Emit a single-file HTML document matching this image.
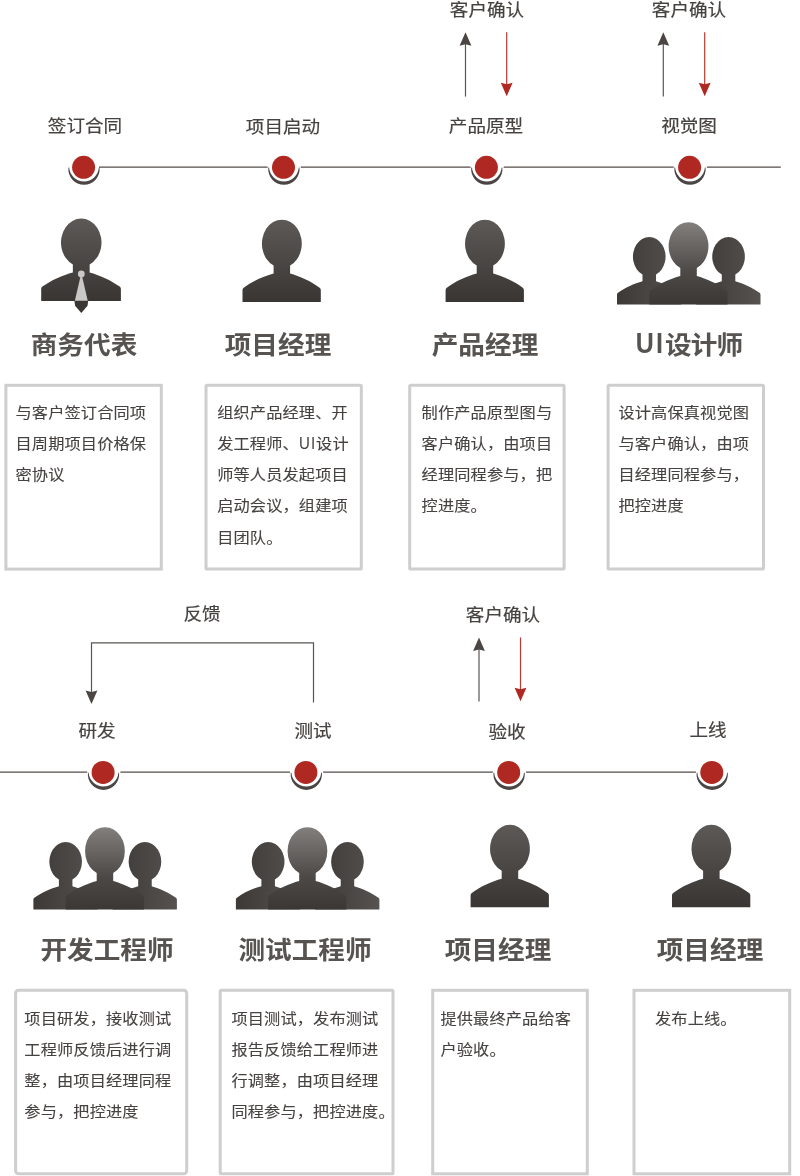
<!DOCTYPE html>
<html lang="zh-CN">
<head>
<meta charset="utf-8">
<title>项目流程</title>
<style>

html,body{margin:0;padding:0;background:#fff;}
body{width:800px;height:1176px;overflow:hidden;position:relative;font-family:"Liberation Sans", "Noto Sans CJK SC", sans-serif;color:#464240;}
#stage{position:absolute;left:0;top:0;width:800px;height:1176px;overflow:hidden;background:#fff;will-change:transform;}
.lbl,.ttl,.txt{position:absolute;white-space:nowrap;margin:0;padding:0;}
.ttl .u{display:inline-block;line-height:1;transform-origin:0 86%;transform:scale(0.94,1.19);letter-spacing:2.4px;margin-right:-2.2px;}
.txt .u{display:inline-block;line-height:1;transform-origin:0 86%;transform:scale(0.93,1.16);letter-spacing:1.3px;margin-left:0.6px;margin-right:-2.2px;-webkit-text-stroke:0;}
.txt{-webkit-text-stroke:0.12px #464240;}
.lbl{-webkit-text-stroke:0.2px #464240;}
.lbl{font-size:18.3px;line-height:24px;height:24px;transform:translate(-50%,-50%) scale(1.016,0.95);color:#464240;}
.ttl{font-size:26.3px;line-height:34px;height:34px;font-weight:bold;transform:translate(-50%,-50%) scale(1.0125,0.95);color:#565351;}
.txt{font-size:16.2px;letter-spacing:0.15px;line-height:33.880px;transform-origin:0 0;transform:scale(1.0,0.915);color:#464240;}

</style>
</head>
<body>
<div id="stage">
<svg width="800" height="1176" viewBox="0 0 800 1176" style="position:absolute;left:0;top:0">
<defs>
<linearGradient id="gSingle" x1="0" y1="0" x2="0" y2="1"><stop offset="0" stop-color="#5c5957"/><stop offset="1" stop-color="#393533"/></linearGradient>
<linearGradient id="gCenter" x1="0" y1="0" x2="0" y2="1"><stop offset="0" stop-color="#827f7d"/><stop offset="0.6" stop-color="#4d4947"/><stop offset="1" stop-color="#3b3735"/></linearGradient>
<linearGradient id="gSideL" x1="0" y1="0" x2="1" y2="0"><stop offset="0" stop-color="#3d3937"/><stop offset="1" stop-color="#56524f"/></linearGradient>
<linearGradient id="gSideR" x1="0" y1="0" x2="1" y2="0"><stop offset="0" stop-color="#3d3937"/><stop offset="1" stop-color="#56524f"/></linearGradient>
</defs>
<path d="M 99.0,167.10000000000002 L 267.6,167.10000000000002 M 300.8,167.10000000000002 L 470.5,167.10000000000002 M 503.7,167.10000000000002 L 673.7,167.10000000000002 M 706.9,167.10000000000002 L 780.8,167.10000000000002" stroke="#524d4b" stroke-width="1.25" fill="none"/>
<path d="M 0.0,772.1 L 87.2,772.1 M 120.4,772.1 L 290.0,772.1 M 323.2,772.1 L 492.8,772.1 M 526.0,772.1 L 695.9,772.1" stroke="#524d4b" stroke-width="1.25" fill="none"/>
<g transform="translate(83.6,167.3)"><path d="M -15.58,0.3 A 15.66,15.66 0 1 0 15.58,0.3 L 14.86,0.3 A 14.9,14.9 0 0 1 -14.86,0.3 Z" transform="translate(0.4,0)" fill="#4b4644"/><circle cx="0" cy="0" r="11.5" fill="#b02822"/></g>
<g transform="translate(283.5,167.3)"><path d="M -15.58,0.3 A 15.66,15.66 0 1 0 15.58,0.3 L 14.86,0.3 A 14.9,14.9 0 0 1 -14.86,0.3 Z" transform="translate(0.4,0)" fill="#4b4644"/><circle cx="0" cy="0" r="11.5" fill="#b02822"/></g>
<g transform="translate(486.4,167.3)"><path d="M -15.58,0.3 A 15.66,15.66 0 1 0 15.58,0.3 L 14.86,0.3 A 14.9,14.9 0 0 1 -14.86,0.3 Z" transform="translate(0.4,0)" fill="#4b4644"/><circle cx="0" cy="0" r="11.5" fill="#b02822"/></g>
<g transform="translate(689.6,167.3)"><path d="M -15.58,0.3 A 15.66,15.66 0 1 0 15.58,0.3 L 14.86,0.3 A 14.9,14.9 0 0 1 -14.86,0.3 Z" transform="translate(0.4,0)" fill="#4b4644"/><circle cx="0" cy="0" r="11.5" fill="#b02822"/></g>
<g transform="translate(103.1,772.4)"><path d="M -15.58,0.3 A 15.66,15.66 0 1 0 15.58,0.3 L 14.86,0.3 A 14.9,14.9 0 0 1 -14.86,0.3 Z" transform="translate(0.4,0)" fill="#4b4644"/><circle cx="0" cy="0" r="11.5" fill="#b02822"/></g>
<g transform="translate(305.9,772.4)"><path d="M -15.58,0.3 A 15.66,15.66 0 1 0 15.58,0.3 L 14.86,0.3 A 14.9,14.9 0 0 1 -14.86,0.3 Z" transform="translate(0.4,0)" fill="#4b4644"/><circle cx="0" cy="0" r="11.5" fill="#b02822"/></g>
<g transform="translate(508.7,772.4)"><path d="M -15.58,0.3 A 15.66,15.66 0 1 0 15.58,0.3 L 14.86,0.3 A 14.9,14.9 0 0 1 -14.86,0.3 Z" transform="translate(0.4,0)" fill="#4b4644"/><circle cx="0" cy="0" r="11.5" fill="#b02822"/></g>
<g transform="translate(711.8,772.4)"><path d="M -15.58,0.3 A 15.66,15.66 0 1 0 15.58,0.3 L 14.86,0.3 A 14.9,14.9 0 0 1 -14.86,0.3 Z" transform="translate(0.4,0)" fill="#4b4644"/><circle cx="0" cy="0" r="11.5" fill="#b02822"/></g>
<path d="M 465.5,40.3 L 465.5,96.6" stroke="#595553" stroke-width="1.2" fill="none"/><path d="M 465.5,32.3 L 471.4,45.8 L 465.5,44.3 L 459.6,45.8 Z" fill="#4b4644"/>
<path d="M 506.7,32.3 L 506.7,88.3" stroke="#bb3a34" stroke-width="1.2" fill="none"/><path d="M 506.7,96.3 L 512.6,82.8 L 506.7,84.3 L 500.8,82.8 Z" fill="#b02822"/>
<path d="M 663.3,40.3 L 663.3,96.6" stroke="#595553" stroke-width="1.2" fill="none"/><path d="M 663.3,32.3 L 669.1999999999999,45.8 L 663.3,44.3 L 657.4,45.8 Z" fill="#4b4644"/>
<path d="M 704.7,32.3 L 704.7,88.3" stroke="#bb3a34" stroke-width="1.2" fill="none"/><path d="M 704.7,96.3 L 710.6,82.8 L 704.7,84.3 L 698.8000000000001,82.8 Z" fill="#b02822"/>
<path d="M 479,645.5 L 479,701.5" stroke="#595553" stroke-width="1.2" fill="none"/><path d="M 479,637.5 L 484.9,651.0 L 479,649.5 L 473.1,651.0 Z" fill="#4b4644"/>
<path d="M 520.5,637.5 L 520.5,693.3" stroke="#bb3a34" stroke-width="1.2" fill="none"/><path d="M 520.5,701.3 L 526.4,687.8 L 520.5,689.3 L 514.6,687.8 Z" fill="#b02822"/>
<path d="M 313.5,702.5 L 313.5,642.8 L 91.5,642.8 L 91.5,696" stroke="#595553" stroke-width="1.2" fill="none"/>
<path d="M 91.5,704 L 97.4,690.5 L 91.5,692.0 L 85.6,690.5 Z" fill="#4b4644"/>
<g transform="translate(81.3,218.4) scale(1.018,1)" fill="url(#gSingle)"><path d="M -8.3,46 L -8.3,54 C -18,56.5 -30,61.9 -38.2,68.2 Q -39.4,69.1 -39.4,70.5 L -39.4,82.5 L 38.9,82.5 L 38.9,70.5 Q 38.9,69.1 37.7,68.2 C 29.5,61.9 17.5,56.5 8.2,54 L 8.2,46 A 19.9,24 0 1 0 -8.3,46 Z"/></g><g transform="translate(81.3,218.4)"><path d="M -0.7,57.5 L 0.7,57.5 L 6.5,82.6 L -6.5,82.6 Z" fill="#c9c8c7"/><circle cx="0" cy="55.5" r="3.4" fill="#c9c8c7"/><path d="M -6.9,82.4 L 6.9,82.4 L 6.2,87.3 L 0,94.6 L -6.2,87.3 Z" fill="#3b3735"/></g>
<g transform="translate(281.9,219.5) scale(1.0)" fill="url(#gSingle)"><path d="M -8.3,46 L -8.3,54 C -18,56.5 -30,61.9 -38.2,68.2 Q -39.4,69.1 -39.4,70.5 L -39.4,82.5 L 38.9,82.5 L 38.9,70.5 Q 38.9,69.1 37.7,68.2 C 29.5,61.9 17.5,56.5 8.2,54 L 8.2,46 A 19.9,24 0 1 0 -8.3,46 Z"/></g>
<g transform="translate(485.0,219.5) scale(1.0)" fill="url(#gSingle)"><path d="M -8.3,46 L -8.3,54 C -18,56.5 -30,61.9 -38.2,68.2 Q -39.4,69.1 -39.4,70.5 L -39.4,82.5 L 38.9,82.5 L 38.9,70.5 Q 38.9,69.1 37.7,68.2 C 29.5,61.9 17.5,56.5 8.2,54 L 8.2,46 A 19.9,24 0 1 0 -8.3,46 Z"/></g>
<g transform="translate(649.3000000000001,236.85000000000002) scale(0.82)" fill="url(#gSideL)"><path d="M -8.3,46 L -8.3,54 C -18,56.5 -30,61.9 -38.2,68.2 Q -39.4,69.1 -39.4,70.5 L -39.4,82.5 L 38.9,82.5 L 38.9,70.5 Q 38.9,69.1 37.7,68.2 C 29.5,61.9 17.5,56.5 8.2,54 L 8.2,46 A 19.9,24 0 1 0 -8.3,46 Z"/></g><g transform="translate(728.6,236.85000000000002) scale(0.82)" fill="url(#gSideR)"><path d="M -8.3,46 L -8.3,54 C -18,56.5 -30,61.9 -38.2,68.2 Q -39.4,69.1 -39.4,70.5 L -39.4,82.5 L 38.9,82.5 L 38.9,70.5 Q 38.9,69.1 37.7,68.2 C 29.5,61.9 17.5,56.5 8.2,54 L 8.2,46 A 19.9,24 0 1 0 -8.3,46 Z"/></g><g transform="translate(688.6,222) scale(1.0)" fill="url(#gCenter)"><path d="M -8.3,46 L -8.3,54 C -18,56.5 -30,61.9 -38.2,68.2 Q -39.4,69.1 -39.4,70.5 L -39.4,82.5 L 38.9,82.5 L 38.9,70.5 Q 38.9,69.1 37.7,68.2 C 29.5,61.9 17.5,56.5 8.2,54 L 8.2,46 A 19.9,24 0 1 0 -8.3,46 Z"/></g>
<g transform="translate(65.7,841.85) scale(0.82)" fill="url(#gSideL)"><path d="M -8.3,46 L -8.3,54 C -18,56.5 -30,61.9 -38.2,68.2 Q -39.4,69.1 -39.4,70.5 L -39.4,82.5 L 38.9,82.5 L 38.9,70.5 Q 38.9,69.1 37.7,68.2 C 29.5,61.9 17.5,56.5 8.2,54 L 8.2,46 A 19.9,24 0 1 0 -8.3,46 Z"/></g><g transform="translate(145.0,841.85) scale(0.82)" fill="url(#gSideR)"><path d="M -8.3,46 L -8.3,54 C -18,56.5 -30,61.9 -38.2,68.2 Q -39.4,69.1 -39.4,70.5 L -39.4,82.5 L 38.9,82.5 L 38.9,70.5 Q 38.9,69.1 37.7,68.2 C 29.5,61.9 17.5,56.5 8.2,54 L 8.2,46 A 19.9,24 0 1 0 -8.3,46 Z"/></g><g transform="translate(105,827) scale(1.0)" fill="url(#gCenter)"><path d="M -8.3,46 L -8.3,54 C -18,56.5 -30,61.9 -38.2,68.2 Q -39.4,69.1 -39.4,70.5 L -39.4,82.5 L 38.9,82.5 L 38.9,70.5 Q 38.9,69.1 37.7,68.2 C 29.5,61.9 17.5,56.5 8.2,54 L 8.2,46 A 19.9,24 0 1 0 -8.3,46 Z"/></g>
<g transform="translate(268.2,841.85) scale(0.82)" fill="url(#gSideL)"><path d="M -8.3,46 L -8.3,54 C -18,56.5 -30,61.9 -38.2,68.2 Q -39.4,69.1 -39.4,70.5 L -39.4,82.5 L 38.9,82.5 L 38.9,70.5 Q 38.9,69.1 37.7,68.2 C 29.5,61.9 17.5,56.5 8.2,54 L 8.2,46 A 19.9,24 0 1 0 -8.3,46 Z"/></g><g transform="translate(347.5,841.85) scale(0.82)" fill="url(#gSideR)"><path d="M -8.3,46 L -8.3,54 C -18,56.5 -30,61.9 -38.2,68.2 Q -39.4,69.1 -39.4,70.5 L -39.4,82.5 L 38.9,82.5 L 38.9,70.5 Q 38.9,69.1 37.7,68.2 C 29.5,61.9 17.5,56.5 8.2,54 L 8.2,46 A 19.9,24 0 1 0 -8.3,46 Z"/></g><g transform="translate(307.5,827) scale(1.0)" fill="url(#gCenter)"><path d="M -8.3,46 L -8.3,54 C -18,56.5 -30,61.9 -38.2,68.2 Q -39.4,69.1 -39.4,70.5 L -39.4,82.5 L 38.9,82.5 L 38.9,70.5 Q 38.9,69.1 37.7,68.2 C 29.5,61.9 17.5,56.5 8.2,54 L 8.2,46 A 19.9,24 0 1 0 -8.3,46 Z"/></g>
<g transform="translate(510,824.7) scale(1.0)" fill="url(#gSingle)"><path d="M -8.3,46 L -8.3,54 C -18,56.5 -30,61.9 -38.2,68.2 Q -39.4,69.1 -39.4,70.5 L -39.4,82.5 L 38.9,82.5 L 38.9,70.5 Q 38.9,69.1 37.7,68.2 C 29.5,61.9 17.5,56.5 8.2,54 L 8.2,46 A 19.9,24 0 1 0 -8.3,46 Z"/></g>
<g transform="translate(711.4,824.7) scale(1.0)" fill="url(#gSingle)"><path d="M -8.3,46 L -8.3,54 C -18,56.5 -30,61.9 -38.2,68.2 Q -39.4,69.1 -39.4,70.5 L -39.4,82.5 L 38.9,82.5 L 38.9,70.5 Q 38.9,69.1 37.7,68.2 C 29.5,61.9 17.5,56.5 8.2,54 L 8.2,46 A 19.9,24 0 1 0 -8.3,46 Z"/></g>
<rect x="5.90" y="385.30" width="155.40" height="183.80" rx="0" ry="0" fill="#fff" stroke="#cecece" stroke-width="3.0" stroke-linejoin="miter"/>
<rect x="206.00" y="385.30" width="155.30" height="183.80" rx="1.1" ry="1.1" fill="#fff" stroke="#cecece" stroke-width="3.0" stroke-linejoin="round"/>
<rect x="409.70" y="385.30" width="154.40" height="183.80" rx="1.1" ry="1.1" fill="#fff" stroke="#cecece" stroke-width="3.0" stroke-linejoin="round"/>
<rect x="608.10" y="385.30" width="155.40" height="183.80" rx="1.1" ry="1.1" fill="#fff" stroke="#cecece" stroke-width="3.0" stroke-linejoin="round"/>
<rect x="15.60" y="990.30" width="171.10" height="183.50" rx="3.0" ry="3.0" fill="#fff" stroke="#cecece" stroke-width="3.0" stroke-linejoin="round"/>
<rect x="220.20" y="990.30" width="172.80" height="183.50" rx="1.1" ry="1.1" fill="#fff" stroke="#cecece" stroke-width="3.0" stroke-linejoin="round"/>
<rect x="432.70" y="990.30" width="154.60" height="183.50" rx="0" ry="0" fill="#fff" stroke="#cecece" stroke-width="3.0" stroke-linejoin="miter"/>
<rect x="634.00" y="990.30" width="155.70" height="183.50" rx="0" ry="0" fill="#fff" stroke="#cecece" stroke-width="3.0" stroke-linejoin="miter"/>
</svg>
<div class="lbl" style="left:84.5px;top:126.45px">签订合同</div>
<div class="lbl" style="left:283px;top:126.95px">项目启动</div>
<div class="lbl" style="left:485.7px;top:126.45px">产品原型</div>
<div class="lbl" style="left:688.7px;top:126.45px">视觉图</div>
<div class="lbl" style="left:486.8px;top:9.95px">客户确认</div>
<div class="lbl" style="left:688.5px;top:9.95px">客户确认</div>
<div class="lbl" style="left:202px;top:614.45px">反馈</div>
<div class="lbl" style="left:503px;top:615.45px">客户确认</div>
<div class="lbl" style="left:97px;top:730.95px">研发</div>
<div class="lbl" style="left:313px;top:730.95px">测试</div>
<div class="lbl" style="left:506.7px;top:731.95px">验收</div>
<div class="lbl" style="left:708.4px;top:729.85px">上线</div>
<h2 class="ttl" style="left:84.1px;top:344.7px">商务代表</h2>
<h2 class="ttl" style="left:277.5px;top:344.7px">项目经理</h2>
<h2 class="ttl" style="left:485px;top:344.7px">产品经理</h2>
<h2 class="ttl" style="left:689.0px;top:344.7px;letter-spacing:-0.85px"><span class="u">UI</span>设计师</h2>
<h2 class="ttl" style="left:106.6px;top:949.7px">开发工程师</h2>
<h2 class="ttl" style="left:304.7px;top:949.7px">测试工程师</h2>
<h2 class="ttl" style="left:497.5px;top:949.7px">项目经理</h2>
<h2 class="ttl" style="left:710px;top:949.7px">项目经理</h2>
<p class="txt" style="left:15.5px;top:398.2px">与客户签订合同项<br>目周期项目价格保<br>密协议</p>
<p class="txt" style="left:217.2px;top:398.2px">组织产品经理、开<br>发工程师、<span class="u">UI</span>设计<br>师等人员发起项目<br>启动会议，组建项<br>目团队。</p>
<p class="txt" style="left:421.6px;top:398.2px">制作产品原型图与<br>客户确认，由项目<br>经理同程参与，把<br>控进度。</p>
<p class="txt" style="left:618.4px;top:398.2px">设计高保真视觉图<br>与客户确认，由项<br>目经理同程参与，<br>把控进度</p>
<p class="txt" style="left:24.3px;top:1003.6px">项目研发，接收测试<br>工程师反馈后进行调<br>整，由项目经理同程<br>参与，把控进度</p>
<p class="txt" style="left:231.4px;top:1003.6px">项目测试，发布测试<br>报告反馈给工程师进<br>行调整，由项目经理<br>同程参与，把控进度。</p>
<p class="txt" style="left:440.4px;top:1003.6px">提供最终产品给客<br>户验收。</p>
<p class="txt" style="left:655px;top:1003.6px">发布上线。</p>
</div>
</body>
</html>
